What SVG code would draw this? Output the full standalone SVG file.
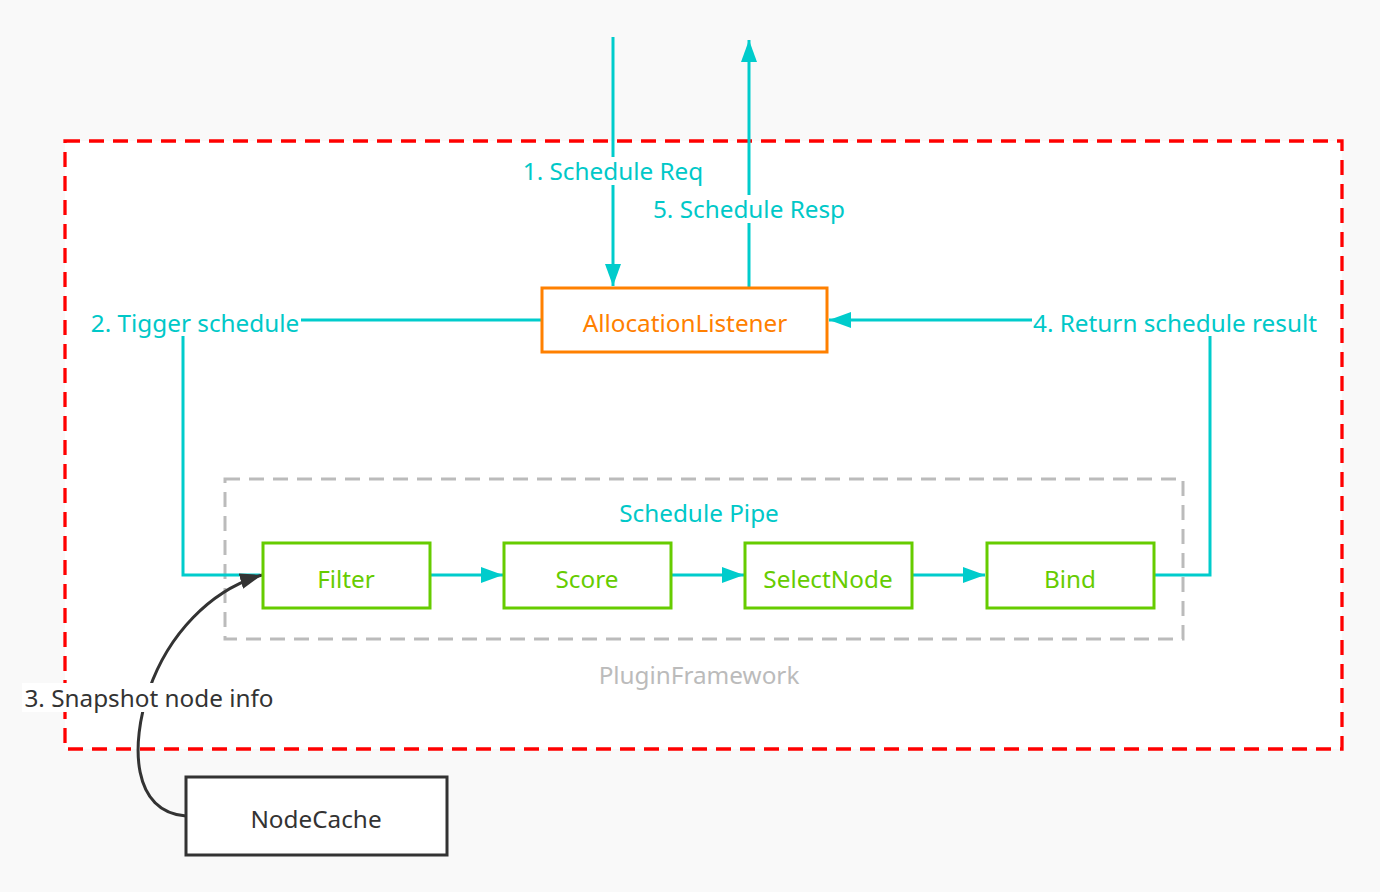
<svg xmlns="http://www.w3.org/2000/svg" width="1380" height="892" viewBox="0 0 1380 892">
<style>
text{font-family:"Noto Sans","Open Sans","DejaVu Sans",sans-serif;font-size:24.3px;text-anchor:middle;dominant-baseline:central}
.cy{fill:#00c8c8}
.gr{fill:#66cc00}
.node-g{fill:#fff;stroke:#66cc00;stroke-width:3}
.conn{fill:none;stroke:#00cccc;stroke-width:3}
.lblbg{fill:#fff}
</style>
<defs>
<marker id="ac" markerUnits="userSpaceOnUse" markerWidth="24" markerHeight="18" refX="22" refY="8" orient="auto">
<path d="M0,0 L22,8 L0,16 Z" fill="#00cccc"/>
</marker>
<marker id="ak" markerUnits="userSpaceOnUse" markerWidth="24" markerHeight="18" refX="22" refY="9" orient="auto">
<path d="M0,1 L22,9 L0,17 Z" fill="#333"/>
</marker>
</defs>
<rect width="1380" height="892" fill="#f9f9f9"/>
<g id="group-outer">
<rect x="65" y="141" width="1277" height="608" fill="#fff" stroke="#ff0000" stroke-width="3.3" stroke-dasharray="15 9"/>
</g>
<g id="group-pipe">
<rect x="225" y="479" width="958" height="160" fill="none" stroke="#bbbbbb" stroke-width="3" stroke-dasharray="15 9"/>
<text x="699" y="512" class="cy">Schedule Pipe</text>
<text x="699" y="674" fill="#bbbbbb">PluginFramework</text>
</g>
<g id="connectors">
<path class="conn" d="M613,37 V286" marker-end="url(#ac)"/>
<path class="conn" d="M749,287 V40" marker-end="url(#ac)"/>
<path class="conn" d="M541,320 H183 V575 H260"/>
<path class="conn" d="M1154,575 H1210 V320 H829" marker-end="url(#ac)"/>
<path class="conn" d="M430,575 H503" marker-end="url(#ac)"/>
<path class="conn" d="M670,575 H744" marker-end="url(#ac)"/>
<path class="conn" d="M912,575 H985" marker-end="url(#ac)"/>
<path d="M186,816 C132,812 130,745 149,690 S210,590 262,575" fill="none" stroke="#333" stroke-width="3" marker-end="url(#ak)"/>
<rect class="lblbg" x="521" y="157" width="185" height="28"/>
<text x="613" y="170" class="cy">1. Schedule Req</text>
<rect class="lblbg" x="650" y="195" width="197" height="28"/>
<text x="749" y="208" class="cy">5. Schedule Resp</text>
<rect class="lblbg" x="89" y="308" width="212" height="28"/>
<text x="195" y="322" class="cy">2. Tigger schedule</text>
<rect class="lblbg" x="1032" y="308" width="286" height="28"/>
<text x="1175" y="322" class="cy">4. Return schedule result</text>
<rect class="lblbg" x="22" y="683" width="254" height="29"/>
<text x="149" y="697" fill="#333">3. Snapshot node info</text>
</g>
<g id="node-allocationlistener">
<rect x="542" y="288" width="285" height="64" fill="#fff" stroke="#ff8000" stroke-width="3"/>
<text x="685" y="322" fill="#ff8000">AllocationListener</text>
</g>
<g id="node-filter">
<rect class="node-g" x="263" y="543" width="167" height="65"/>
<text x="346" y="578" class="gr">Filter</text>
</g>
<g id="node-score">
<rect class="node-g" x="504" y="543" width="167" height="65"/>
<text x="587" y="578" class="gr">Score</text>
</g>
<g id="node-selectnode">
<rect class="node-g" x="745" y="543" width="167" height="65"/>
<text x="828" y="578" class="gr">SelectNode</text>
</g>
<g id="node-bind">
<rect class="node-g" x="987" y="543" width="167" height="65"/>
<text x="1070" y="578" class="gr">Bind</text>
</g>
<g id="node-nodecache">
<rect x="186" y="777" width="261" height="78" fill="#fff" stroke="#333" stroke-width="3"/>
<text x="316" y="818" fill="#333">NodeCache</text>
</g>
</svg>
